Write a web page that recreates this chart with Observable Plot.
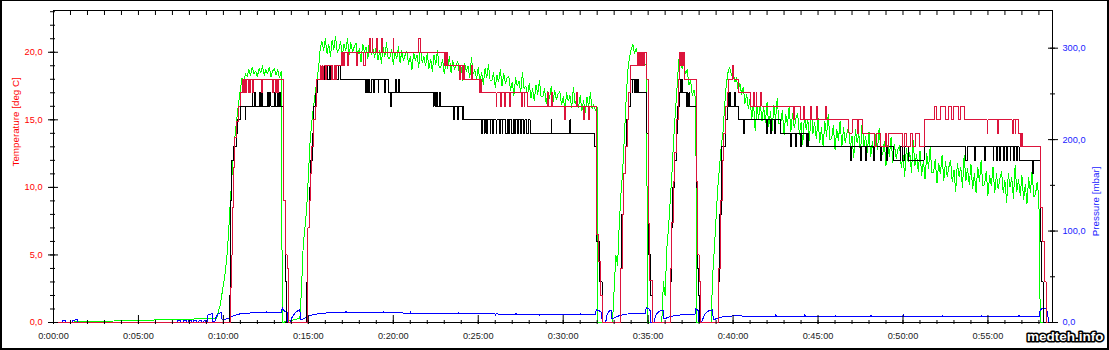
<!DOCTYPE html>
<html><head><meta charset="utf-8">
<script src="https://cdn.jsdelivr.net/npm/d3@7"></script>
<script src="https://cdn.jsdelivr.net/npm/@observablehq/plot@0.6"></script>
<style>
body{margin:0;background:#fff}
#wrap{position:relative;width:1109px;height:350px;overflow:hidden;background:#fff}
#border{position:absolute;left:0;top:0;width:1109px;height:350px;box-sizing:border-box;border:2px solid #000;border-top-width:1px;pointer-events:none}
</style></head><body>
<div id="wrap"><div id="border"></div></div>
<script>
// ---------- data ----------
const Y_MAX = 23.09;      // deg C at top of frame
const P_MAX = 341.2;      // mbar at top of frame
const X_MAX = 58.8;       // minutes
const xTicks = [0,5,10,15,20,25,30,35,40,45,50,55];
const tempTicks = [0,5,10,15,20];
const pressTicks = [0,100,200,300];

// green temperature, sampled every 0.1 min from each start
const GREEN_STEP = 0.1;
const greenStarts = [9.6, 14.5, 32.9, 35.8, 38.7];
const greenDrops  = [13.47, 32.03, 34.97, 37.87, 58.08];
const green1 = [0.3,0.8,1.2,2.0,2.8,3.6,4.8,6.5,8.8,10.8,12.6,14.0,15.2,16.3,17.3,18.1,17.9,18.4,18.2,18.7,18.3,18.9,18.4,18.6,18.2,18.8,18.5,19.0,18.3,18.7,18.4,18.9,18.2,18.6,18.8,18.3,18.7,18.1,18.6];
const green2 = [0.3,2.5,5.8,7.0,8.4,10.8,13.3,14.8,15.9,16.9,17.9,18.8,20.3,
20.8,20.1,21.0,19.9,20.6,19.7,20.9,20.2,21.2,20.0,
20.2,20.8,19.7,20.6,20.1,21.0,19.8,20.7,20.0,20.4,
20.7,19.7,20.3,19.3,20.6,20.0,20.4,19.5,21.0,19.8,
20.3,19.6,20.5,19.4,20.1,19.2,20.4,19.7,20.7,19.5,
19.6,20.2,19.1,20.0,19.5,20.4,19.2,20.1,19.4,19.8,
20.1,19.1,19.7,18.7,20.0,19.4,19.8,18.9,20.4,19.2,
19.7,19.0,19.9,18.8,19.5,18.6,19.8,19.1,20.1,18.9,
18.9,19.5,18.4,19.3,18.8,19.7,18.5,19.4,18.7,19.1,
19.3,18.3,18.9,17.9,19.2,18.6,19.0,18.1,19.6,18.4,
18.7,18.0,18.9,17.8,18.5,17.6,18.8,18.1,19.1,17.9,
17.9,18.5,17.4,18.3,17.8,18.7,17.5,18.4,17.7,18.1,
18.2,17.2,17.8,16.8,18.1,17.5,17.9,17.0,18.5,17.3,
17.5,16.8,17.7,16.6,17.3,16.4,17.6,16.9,17.9,16.7,
16.7,17.3,16.2,17.1,16.6,17.5,16.3,17.2,16.5,16.9,
17.1,16.1,16.7,15.7,17.0,16.4,16.8,15.9,17.4,16.2,
16.6,15.9,16.8,15.7,16.4,15.5,16.7,16.0,17.0,15.8,
16.1,15.7,15.9];
const green3 = [0,2.5,5.0,4.2,7.3,9.5,11.2,13.7,16.4,18.6,19.6,20.2,20.6,19.9,20.3,19.6,19.9,19.3,19.6,19.0,19.2];
const green4 = [0,3.0,2.0,5.5,7.0,9.0,11.0,13.5,15.5,17.4,19.4,20.0,18.8,19.1,18.4,18.7,17.6,17.9,16.8,17.2,16.4];
const green5 = [0,3.5,5.5,7.8,10.0,11.5,13.0,14.0,16.0,17.6,18.5,18.9,18.3,18.6,17.8,18.1,17.2,17.7,16.9,17.4,16.2,16.9,15.8,16.6,15.0,16.3,14.2,16.0,15.1,16.2,14.9,
16.0,14.8,16.3,14.5,15.6,14.2,16.1,15.0,16.6,14.7,
14.7,15.7,13.9,15.4,14.6,16.0,14.1,15.5,14.4,15.1,
15.5,13.9,14.8,13.2,15.3,14.3,15.0,13.5,15.9,14.0,
14.8,13.6,15.1,13.3,14.4,13.0,14.9,13.8,15.4,13.5,
13.6,14.6,12.8,14.3,13.5,14.9,13.0,14.4,13.3,14.0,
14.5,12.9,13.8,12.2,14.3,13.3,14.0,12.5,14.9,13.0,
13.8,12.6,14.1,12.3,13.4,12.0,13.9,12.8,14.4,12.5,
12.4,13.4,11.6,13.1,12.3,13.7,11.8,13.2,12.1,12.8,
13.1,11.5,12.4,10.8,12.9,11.9,12.6,11.1,13.5,11.6,
12.4,11.2,12.7,10.9,12.0,10.6,12.5,11.4,13.0,11.1,
11.1,12.1,10.3,11.8,11.0,12.4,10.5,11.9,10.8,11.5,
12.0,10.4,11.3,9.7,11.8,10.8,11.5,10.0,12.4,10.5,
11.4,10.2,11.7,9.9,11.0,9.6,11.5,10.4,12.0,10.1,
10.2,11.2,9.4,10.9,10.1,11.5,9.6,11.0,9.9,10.6,
11.2,9.6,10.5,8.9,11.0,10.0,10.7,9.2,11.6,9.7,
10.6,9.4,10.9,9.1,10.2,8.8,10.7,9.6,11.2,9.3,
9.5,10.4,9.1];

// red temperature: [minute, deg C] change points (step)
const red = [[0,0],
[10.41,2.6],[10.5,5],[10.55,8.5],[10.6,11.5],[10.68,13.7],[10.78,14.9],[10.88,16],[10.98,17],
[11.12,18],[11.18,17],[11.22,18],[11.3,17],[11.35,18],[11.45,17],[11.5,18],[11.55,17],[11.62,18],[11.7,17],[11.76,18],[12.25,17],[12.3,18],[12.9,17],[12.95,18],[13.05,17],[13.1,18],[13.2,17],[13.25,18],
[13.55,9],[13.67,5],[13.75,4],[13.85,0],
[14.97,7],[15.05,9],[15.12,11],[15.2,13],[15.3,15],[15.4,16],[15.48,18],[15.7,19],
[15.75,18],[15.8,19],[15.85,18],[15.92,19],[16.0,18],[16.05,19],[16.35,18],[16.4,19],[16.45,18],[16.52,19],[16.58,18],[16.64,19],
[16.95,20],[17.0,19],[17.05,20],[17.1,19],[17.15,20],[17.3,19],[17.35,20],[17.85,19],[17.9,20],[18.25,19],[18.35,20],
[18.6,21],[18.65,20],[18.75,21],[18.8,20],[19.0,21],[19.07,20],[19.3,21],[19.35,20],[20.0,21],[20.04,20],[21.5,21],[21.6,20],
[23.0,19],[23.05,20],[23.1,19],[23.15,20],[23.2,19],[23.9,18],[23.95,19],[24.05,18],[24.15,19],[24.2,18],[24.6,19],[24.65,18],
[25.1,17],[25.15,18],[25.22,17],[26.05,16],[26.1,17],[26.3,16],[26.35,17],[26.55,16],[26.6,17],[26.85,16],[26.9,17],[27.55,16],[27.6,17],[27.7,16],[27.75,17],
[27.9,16],[29.1,17],[29.15,16],[29.3,17],[29.35,16],[30.1,15],[30.15,16],[30.8,17],[30.85,16],[31.2,15],[31.25,16],[31.5,15],[31.55,16],
[31.98,6.5],[32.1,4.5],[32.2,2],[32.3,0],
[33.37,4],[33.47,8],[33.57,11],[33.67,13],[33.77,15],[33.85,17],[33.96,19],[34.35,20],[34.4,19],[34.45,20],[34.5,19],[34.55,20],[34.62,19],[34.67,20],[34.75,19],[34.8,20],[34.88,19],[34.93,18],
[35.0,7.3],[35.1,3.1],[35.28,0],
[36.32,4],[36.4,7.4],[36.48,10.4],[36.56,12.6],[36.66,15],[36.78,18],[36.85,20],[36.9,19],[36.95,20],[37.02,19],[37.08,20],[37.15,18],
[37.85,10.4],[37.92,5],[38.0,3],[38.08,0],
[39.17,4],[39.26,9],[39.36,12],[39.45,14],[39.55,16],[39.65,17],[39.75,18],[39.95,19],[40.05,18],[40.34,17],
[41.03,16],[41.2,17],[41.26,16],[41.35,17],[41.4,16],[41.6,17],[41.7,16],[43.55,15],[43.6,16],[43.98,15],[44.12,16],[44.2,15],[44.55,16],[44.6,15],[44.9,16],[44.95,15],[45.45,16],[45.47,15],
[46.82,14],[47.0,15],[47.3,14],[47.4,15],[47.6,14],[48.3,13],[48.45,14],[48.7,13],[48.95,14],[49.05,13],[49.15,14],[50.0,13],[50.1,14],[50.2,13],[50.45,14],[50.55,13],[50.75,14],[50.95,13],
[51.24,15],[51.83,16],[52.0,15],[52.2,16],[52.5,15],[52.65,16],[52.85,15],[53.0,16],[53.25,15],[53.4,16],[53.6,15],[54.95,14],[55.0,15],[55.55,14],[55.6,15],
[56.42,14],[56.5,15],[56.6,14],[56.65,15],[56.8,14],[56.9,13],[56.95,14],[57.03,13],
[58.1,8.5],[58.2,6],[58.3,3],[58.42,0],[58.8,0]];

// black temperature: [minute, deg C] change points (step)
const black = [[0,0],
[10.35,2],[10.42,9],[10.48,12],[10.6,13],[10.75,14],[10.85,15],[11.0,16],[11.28,15],[11.33,16],[11.7,17],[11.72,16],[11.85,17],[11.9,16],[12.12,17],[12.17,16],[12.25,17],[12.3,16],[12.6,17],[12.68,16],[12.72,17],[12.8,16],[13.0,17],[13.07,16],[13.2,17],[13.25,16],[13.3,17],[13.35,16],
[13.53,9],[13.65,3],[13.72,0],
[14.9,3],[14.97,7],[15.05,10],[15.13,12],[15.22,14],[15.32,16],[15.45,17],[15.52,18],[15.7,19],[15.74,18],[15.82,19],[15.86,18],[15.95,19],[16.0,18],[16.1,19],[16.14,18],[16.25,19],[16.3,18],[16.4,19],[16.45,18],[16.55,19],[16.6,18],[16.75,19],[16.9,18],
[18.36,17],[18.42,18],[18.5,17],[18.56,18],[18.62,17],[18.7,18],[18.85,17],[18.88,18],[19.1,17],[19.15,18],[19.5,17],[19.55,18],[19.7,17],[19.85,16],[19.88,17],[20.15,18],[20.2,17],[20.3,18],[20.35,17],
[22.35,16],[22.4,17],[22.5,16],[22.55,17],[22.6,16],[22.7,17],[22.8,16],[23.55,15],[23.58,16],[23.8,15],[23.85,16],[24.05,15],[24.1,16],[24.15,15],
[25.2,14],[25.25,15],[25.35,14],[25.4,15],[25.5,14],[25.55,15],[25.7,14],[25.75,15],[25.85,14],[25.9,15],[26.05,14],[26.1,15],[26.25,14],[26.3,15],[26.4,14],[26.45,15],[26.6,14],[26.7,15],[26.8,14],[26.85,15],[26.95,14],[27.05,15],[27.15,14],[27.2,15],[27.3,14],[27.35,15],[27.5,14],[27.55,15],[27.65,14],[27.75,15],[27.85,14],[27.95,15],[28.05,14],
[29.3,15],[29.33,14],[30.4,15],[30.45,14],[31.85,13],[31.96,6],[32.16,3],[32.3,0],
[33.35,4],[33.45,8],[33.55,11],[33.65,13],[33.75,15],[33.85,16],[33.96,18],[34.05,17],[34.1,18],[34.2,17],[34.25,18],[34.3,17],[34.35,18],[34.45,17],
[34.93,14],[35.0,5],[35.15,2],[35.28,0],
[36.3,3],[36.38,7],[36.46,10],[36.55,12],[36.65,14],[36.75,16],[36.83,17],[36.9,18],[36.95,17],[37.0,18],[37.05,17],[37.25,16],[37.28,17],[37.33,16],[37.4,17],[37.45,16],
[37.83,10],[37.9,4],[37.98,2],[38.05,0],
[39.15,3],[39.22,8],[39.3,13],[39.55,15],[39.65,17],[39.72,16],[39.8,17],[39.83,16],[40.1,17],[40.15,16],[40.3,15],[40.6,14],[40.65,15],
[41.95,14],[42.0,15],[42.2,14],[42.25,15],[42.45,14],[42.5,15],[42.8,14],[43.4,13],[43.45,14],[43.7,13],[43.75,14],[43.95,13],[44.05,14],[44.3,13],[44.4,14],[44.45,13],
[46.9,12],[46.95,13],[47.5,12],[47.55,13],[47.8,12],[47.85,13],[48.25,12],[48.3,13],[48.65,12],[48.72,13],[49.05,12],[49.1,13],[49.45,12],[49.85,13],[49.95,12],[50.1,13],[50.3,12],
[51.24,13],[53.7,12],[53.8,13],[54.2,12],[54.25,13],[54.8,12],[54.85,13],[55.3,12],[55.35,13],[55.5,12],[55.55,13],[55.7,12],[55.75,13],[55.9,12],[55.95,13],[56.1,12],[56.15,13],[56.3,12],[56.35,13],[56.5,12],[56.55,13],[56.7,12],[56.75,13],
[56.83,12],[57.6,11],[57.7,12],[58.08,6],[58.17,3],[58.25,0],[58.8,0]];

// blue pressure: [minute, mbar]
const pressure = [[0,0.3],[0.5,0.3],[0.52,2.2],[0.7,2.2],[0.72,0.3],[1.1,0.3],[1.12,2.2],[1.25,2.2],[1.27,3],[1.4,3],[1.42,0.3],
[7.3,0.3],[7.32,2.2],[7.45,2.2],[7.47,0.3],[7.65,0.3],[7.67,2.2],[7.8,2.2],[7.82,0.3],[7.95,0.3],[7.97,2.2],[8.1,2.2],[8.12,0.3],[8.25,0.3],[8.27,2.2],[8.4,2.2],[8.42,0.3],[8.55,0.3],[8.57,2.2],[8.7,2.2],[8.72,0.3],[8.85,0.3],[8.87,2.5],[8.95,2.5],[8.97,0.3],
[9.05,0.3],[9.1,9],[9.35,9.5],[9.38,1],[9.5,1],[9.55,5],[9.62,7.5],[9.7,9.5],[9.8,10.5],[9.9,11],[9.92,3],[10.0,2.5],[10.1,3.5],[10.25,4.5],[10.4,5.5],[10.6,7.5],[10.8,8.6],[11.0,9.5],[11.4,10.2],[11.8,10.6],[12.5,10.6],[12.52,11.8],[12.55,10.6],
[13.42,10.6],[13.46,16],[13.55,13],[13.7,11.5],[13.78,11],[13.8,0.3],[13.95,0.6],[14.0,4],[14.1,7.5],[14.2,10],[14.35,12.5],[14.5,13.8],[14.54,3],[14.7,4],[14.9,5.5],[15.1,7.5],[15.4,9],[15.8,10.2],[16.5,10.8],
[17.2,10.8],[17.22,12.3],[17.25,10.8],[18.5,10.7],[19.4,10.6],[19.42,12],[19.45,10.6],[21.0,10.3],[21.02,11.8],[21.05,10.3],[22.5,10.0],[23.8,9.8],[23.82,11.2],[23.85,9.8],[25.5,9.4],[26.0,9.3],[26.02,8],[26.05,9.3],[27.2,9.1],[27.22,10.5],[27.25,9.1],[28.6,9.0],[28.62,7.8],[28.65,9.0],[30.0,8.8],[31.0,8.7],[31.02,10],[31.05,8.7],[31.9,8.7],
[31.95,14],[32.1,13],[32.25,11],[32.3,0.3],[32.5,0.3],[32.58,8],[32.66,11.5],[32.75,13.2],[32.82,13.8],[32.85,4],[33.0,5],[33.2,6.8],[33.45,8.2],[33.7,9.2],[34.0,9.5],[34.84,9.5],
[34.88,16],[35.05,15],[35.12,13],[35.14,0.3],[35.35,0.3],[35.45,8],[35.6,11.5],[35.75,13.2],[35.88,13.8],[35.92,4],[36.1,5],[36.3,6.5],[36.6,7.8],[37.0,8.4],[37.75,8.4],
[37.8,15],[37.95,13],[37.99,0.3],[38.15,0.3],[38.3,8],[38.45,11.5],[38.6,13],[38.8,13.8],[38.83,3],[39.0,4],[39.2,5.5],[39.5,6.5],[40.0,7.2],[41.0,7.0],
[42.5,7.0],[42.52,8.5],[42.55,7],[44.2,7],[44.22,8.5],[44.25,7],[46.0,6.8],[46.02,8.2],[46.05,6.8],[48.1,6.8],[48.12,8.2],[48.15,6.8],[50.0,6.8],[50.02,8.3],[50.05,6.8],[52.3,6.7],[52.32,8],[52.35,6.7],[54.6,6.7],[54.62,8],[54.65,6.7],[56.8,6.8],[56.82,8.2],[56.85,6.8],
[58.03,7],[58.07,13],[58.15,15],[58.4,15],[58.5,12],[58.57,0.3],[58.8,0.3]];

// ---------- build tables ----------
const greenSeries = [green1, green2, green3, green4, green5];
const greenData = [{t:0, v:0}];
greenSeries.forEach((vals, i) => {
  vals.forEach((v, j) => greenData.push({t: +(greenStarts[i] + j*GREEN_STEP).toFixed(3), v}));
  greenData.push({t: greenDrops[i], v: 0});
});
greenData.push({t: X_MAX, v: 0});
const redData = red.map(([t,v]) => ({t, v}));
const blackData = black.map(([t,v]) => ({t, v}));
const pToY = P_MAX / Y_MAX;
const pressData = pressure.map(([t,p]) => ({t, p}));

const fmtC = d => d.toFixed(1).replace(".", ",");
const fmtT = m => "0:" + String(m).padStart(2, "0") + ":00";
const minutes = d3.range(0, 59, 1);
const crisp = {strokeWidth: 1, shapeRendering: "crispEdges"};

const chart = Plot.plot({
  width: 1109, height: 350,
  marginLeft: 53, marginRight: 57, marginTop: 10, marginBottom: 28,
  x: {domain: [0, X_MAX]},
  y: {domain: [0, Y_MAX]},
  style: {fontFamily: "'Liberation Sans', Arial, sans-serif", fontSize: "9.2px", background: "transparent", overflow: "visible"},
  marks: [
    Plot.frame({stroke: "#000", shapeRendering: "crispEdges"}),
    Plot.line(greenData, {x: "t", y: "v", stroke: "#00ff00", ...crisp}),
    Plot.line(pressData, {x: "t", y: d => d.p / pToY, stroke: "#0000ff", ...crisp}),
    Plot.line(blackData, {x: "t", y: "v", curve: "step-after", stroke: "#000", ...crisp}),
    Plot.line(redData, {x: "t", y: "v", curve: "step-after", stroke: "#dc143c", ...crisp}),
    // left axis
    Plot.axisY({anchor: "left", ticks: tempTicks, tickSize: 10, dx: 5, tickFormat: () => "", label: null}),
    Plot.axisY({anchor: "left", ticks: d3.range(0, 24, 1), tickSize: 5, dx: 2, tickFormat: () => "", label: null}),
    Plot.axisY({anchor: "left", ticks: tempTicks, tickSize: 0, tickPadding: 11, tickFormat: fmtC, fill: "#ff0000", label: null}),
    // right axis (pressure)
    Plot.axisY({anchor: "right", ticks: pressTicks.map(p => p / pToY), tickSize: 10, dx: -5, tickFormat: () => "", label: null}),
    Plot.axisY({anchor: "right", ticks: d3.range(0, 301, 50).map(p => p / pToY), tickSize: 5, dx: -3, tickFormat: () => "", label: null}),
    Plot.axisY({anchor: "right", ticks: pressTicks.map(p => p / pToY), tickSize: 0, tickPadding: 10, tickFormat: d => fmtC(d * pToY), fill: "#1a1aff", label: null}),
    // bottom axis
    Plot.axisX({anchor: "bottom", ticks: xTicks, tickSize: 9, dy: -7, tickFormat: () => "", label: null}),
    Plot.axisX({anchor: "bottom", ticks: minutes, tickSize: 4, dy: -2, tickFormat: () => "", label: null}),
    Plot.axisX({anchor: "bottom", ticks: xTicks, tickSize: 0, tickPadding: 10, tickFormat: fmtT, fill: "#222", label: null}),
    // top ticks
    Plot.axisX({anchor: "top", ticks: minutes, tickSize: 4, dy: 4, tickFormat: () => "", label: null}),
    // axis titles
    Plot.text(["Temperature [deg C]"], {frameAnchor: "left", dx: -38, rotate: -90, fill: "#ff0000", fontSize: 9.8}),
    Plot.text(["Pressure [mbar]"], {frameAnchor: "right", dx: 43, rotate: -90, fill: "#1a1aff", fontSize: 9.8}),
    // watermark
    Plot.text(["medteh.info"], {frameAnchor: "bottom-right", dx: 51, dy: 18.5, textAnchor: "end", fontSize: 13.5, fontWeight: "bold", fill: "#fff", stroke: "#000", strokeWidth: 3.2, paintOrder: "stroke"})
  ]
});
document.getElementById("wrap").insertBefore(chart, document.getElementById("border"));
</script>
</body></html>
